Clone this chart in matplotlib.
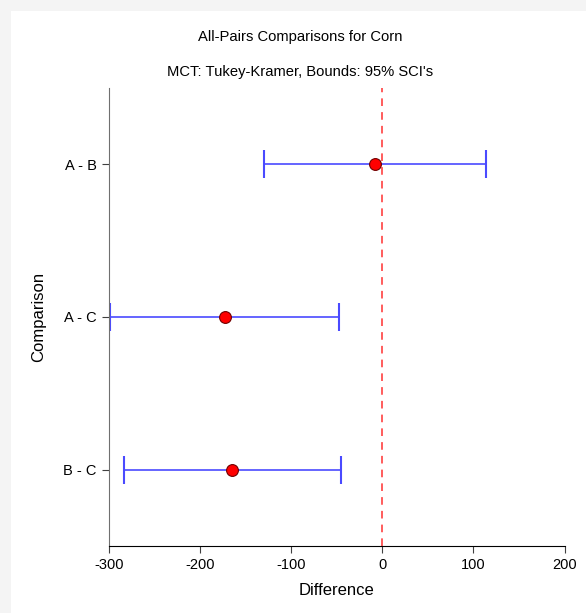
import numpy as np
import matplotlib.pyplot as plt
from matplotlib.patches import Rectangle

plt.rcParams['font.family'] = ['Liberation Sans', 'DejaVu Sans']
plt.rcParams['axes.unicode_minus'] = False

# Tukey-Kramer all-pairs comparisons
comparisons = ["A - B", "A - C", "B - C"]
diff = [-8.0, -173.2, -164.6]
lower = [-130.0, -298.9, -283.9]
upper = [114.1, -47.5, -44.9]

ypos = np.arange(len(comparisons))[::-1]  # A - B at the top

fig = plt.figure(figsize=(5.86, 6.13), dpi=100, facecolor="#f4f4f4")
# white panel behind the chart
fig.patches.append(Rectangle((11 / 586, 0), 1, 1 - 11 / 613, transform=fig.transFigure,
                             facecolor="white", edgecolor="none", zorder=-10))
ax = fig.add_axes([109 / 586, 1 - 546 / 613, 455.5 / 586, 458 / 613])
ax.set_facecolor("none")

d = np.array(diff)
xerr = [d - np.array(lower), np.array(upper) - d]
ax.errorbar(diff, ypos, xerr=xerr, fmt="none", ecolor="#4a4aff", elinewidth=1.2,
            capsize=10, capthick=1.5, zorder=2)
ax.plot(diff, ypos, "o", color="red", markeredgecolor="#700000", markersize=8.5,
        markeredgewidth=0.8, linestyle="none", zorder=3)
ax.axvline(0, color="#ff3030", linestyle=(0, (5, 4)), linewidth=1.1, zorder=1)

ax.set_xlim(-300, 200)
ax.set_ylim(-0.5, 2.5)
ax.set_xticks([-300, -200, -100, 0, 100, 200])
ax.set_yticks(ypos)
ax.set_yticklabels(comparisons)
ax.tick_params(axis="both", labelsize=10.5, length=5, direction="out", color="#404040")
ax.tick_params(axis="y", pad=4)

ax.spines["top"].set_visible(False)
ax.spines["right"].set_visible(False)
ax.spines["left"].set_color("#707070")
ax.spines["bottom"].set_color("black")

ax.set_xlabel("Difference", fontsize=12, labelpad=8)
ax.set_ylabel("Comparison", fontsize=12, labelpad=12)

fig.text(300 / 586, 1 - 37 / 613, "All-Pairs Comparisons for Corn", ha="center", va="center", fontsize=10.6)
fig.text(300 / 586, 1 - 72 / 613, "MCT: Tukey-Kramer, Bounds: 95% SCI's", ha="center", va="center", fontsize=10.6)

fig.savefig("out.png", dpi=100, facecolor=fig.get_facecolor())
